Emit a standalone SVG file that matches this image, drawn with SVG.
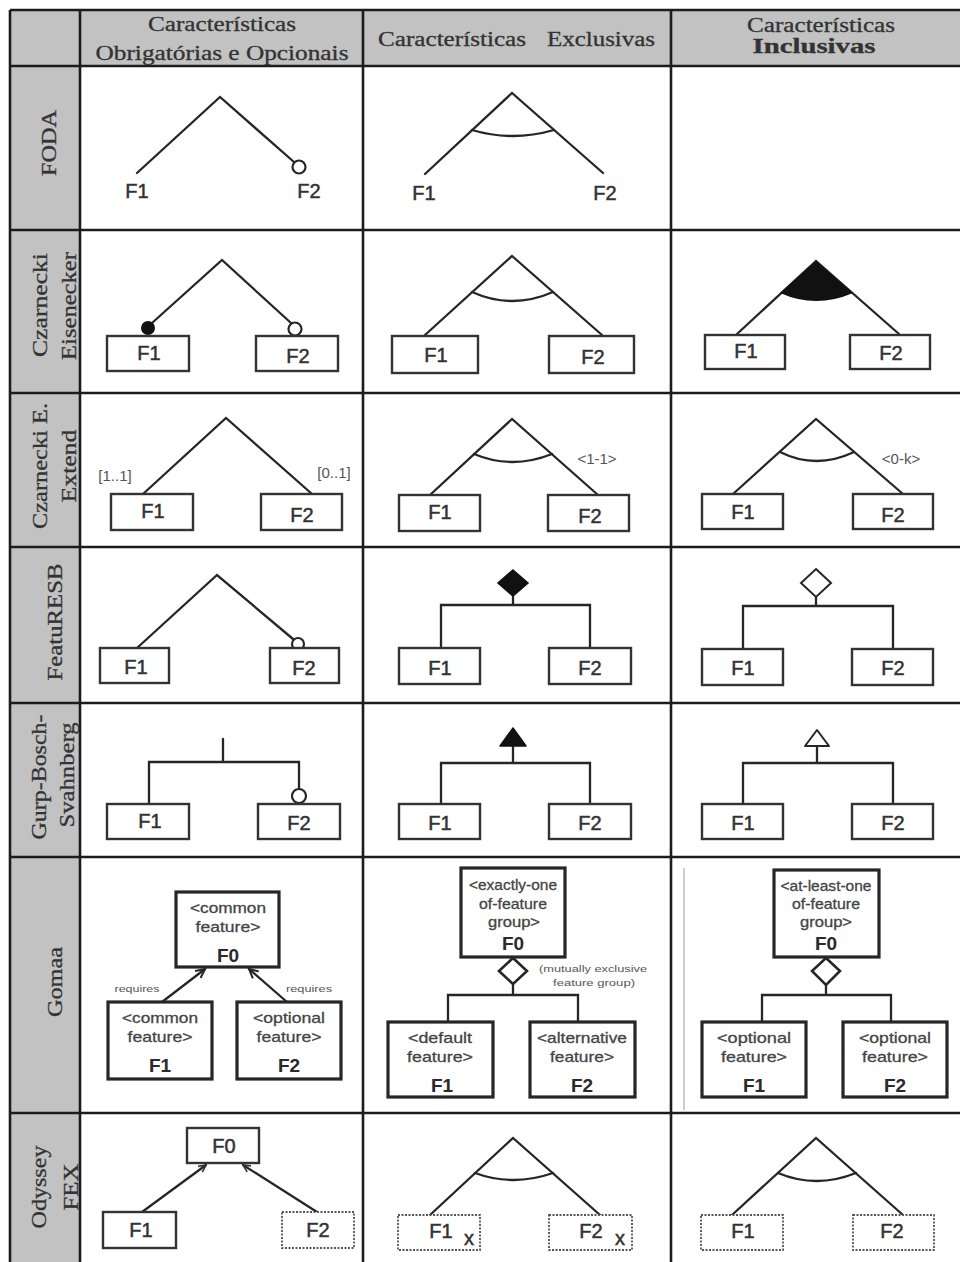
<svg xmlns="http://www.w3.org/2000/svg" width="960" height="1262" viewBox="0 0 960 1262">
  <defs>
    <style>
      .grid { stroke: #1c1c1c; stroke-width: 2.6; fill: none; }
      .ln { stroke: #262626; stroke-width: 2.3; fill: none; stroke-linecap: round; }
      .box { fill: #ffffff; stroke: #333333; stroke-width: 2.4; }
      .gbox { fill: #ffffff; stroke: #262626; stroke-width: 3.2; }
      .dbox { fill: #ffffff; stroke: #555555; stroke-width: 1.8; stroke-dasharray: 2 1.5; }
      .f { font-family: "Liberation Sans", Arial, sans-serif; font-size: 20px; fill: #333333; stroke: #333333; stroke-width: 0.5; text-anchor: middle; }
      .fb { font-family: "Liberation Sans", Arial, sans-serif; font-size: 19px; font-weight: bold; fill: #2a2a2a; text-anchor: middle; }
      .st { font-family: "Liberation Sans", Arial, sans-serif; font-size: 15px; fill: #444444; stroke: #444444; stroke-width: 0.3; text-anchor: middle; }
      .sm { font-family: "Liberation Sans", Arial, sans-serif; font-size: 9px; fill: #555555; text-anchor: middle; }
      .card { font-family: "Liberation Sans", Arial, sans-serif; font-size: 15px; fill: #555555; text-anchor: middle; }
      .hd { font-family: "Liberation Serif", "Times New Roman", serif; font-size: 20px; fill: #333333; stroke: #333333; stroke-width: 0.3; text-anchor: middle; }
      .rl { font-family: "Liberation Serif", "Times New Roman", serif; font-size: 21px; fill: #333333; stroke: #333333; stroke-width: 0.3; text-anchor: middle; }
    </style>
    <marker id="open-arrow" markerWidth="12" markerHeight="12" refX="10" refY="5" orient="auto" markerUnits="userSpaceOnUse" viewBox="0 0 12 10">
      <path d="M1,0.5 L10,5 L1,9.5" fill="none" stroke="#262626" stroke-width="2"/>
    </marker>
    <marker id="open-arrow-sm" markerWidth="9" markerHeight="9" refX="9" refY="5" orient="auto" markerUnits="userSpaceOnUse" viewBox="0 0 10 10">
      <path d="M1,1 L9,5 L1,9" fill="none" stroke="#333333" stroke-width="1.8"/>
    </marker>
  </defs>

  <rect width="960" height="1262" fill="#ffffff"/>

  <!-- table: header band, label column, rules -->
  <g id="table">
    <rect x="10" y="10" width="950" height="56" fill="#c2c2c2"/>
    <rect x="10" y="10" width="70" height="1252" fill="#c2c2c2"/>
    <path class="grid" d="M10,10 H960 M10,66 H960 M10,230 H960 M10,393 H960 M10,547 H960 M10,703 H960 M10,857 H960 M10,1113 H960"/>
    <path class="grid" d="M10,10 V1262 M80,10 V1262 M363,10 V1262 M671,10 V1262"/>
    <line x1="684" y1="868" x2="684" y2="1110" stroke="#bdbdbd" stroke-width="1.5"/>
  </g>

  <!-- column headings -->
  <g id="headings">
    <text class="hd" x="222" y="31" textLength="148" lengthAdjust="spacingAndGlyphs">Características</text>
    <text class="hd" x="222" y="60" textLength="253" lengthAdjust="spacingAndGlyphs">Obrigatórias e Opcionais</text>
    <text class="hd" x="452" y="46" textLength="148" lengthAdjust="spacingAndGlyphs">Características</text>
    <text class="hd" x="601" y="46" textLength="108" lengthAdjust="spacingAndGlyphs">Exclusivas</text>
    <text class="hd" x="821" y="32" textLength="148" lengthAdjust="spacingAndGlyphs">Características</text>
    <text class="hd" x="814" y="53" font-weight="bold" fill="#1d1d33" stroke="none" textLength="123" lengthAdjust="spacingAndGlyphs">Inclusivas</text>
  </g>

  <!-- row headings (rotated) -->
  <g id="row-labels">
    <text class="rl" transform="translate(56,143) rotate(-90)" textLength="66" lengthAdjust="spacingAndGlyphs">FODA</text>
    <text class="rl" transform="translate(47,305) rotate(-90)" textLength="104" lengthAdjust="spacingAndGlyphs">Czarnecki</text>
    <text class="rl" transform="translate(76,306) rotate(-90)" textLength="108" lengthAdjust="spacingAndGlyphs">Eisenecker</text>
    <text class="rl" transform="translate(47,466) rotate(-90)" textLength="126" lengthAdjust="spacingAndGlyphs">Czarnecki E.</text>
    <text class="rl" transform="translate(76,466) rotate(-90)" textLength="73" lengthAdjust="spacingAndGlyphs">Extend</text>
    <text class="rl" transform="translate(62,622) rotate(-90)" textLength="117" lengthAdjust="spacingAndGlyphs">FeatuRESB</text>
    <text class="rl" transform="translate(46,777) rotate(-90)" textLength="125" lengthAdjust="spacingAndGlyphs">Gurp-Bosch-</text>
    <text class="rl" transform="translate(74,775) rotate(-90)" textLength="105" lengthAdjust="spacingAndGlyphs">Svahnberg</text>
    <text class="rl" transform="translate(62,982) rotate(-90)" textLength="70" lengthAdjust="spacingAndGlyphs">Gomaa</text>
    <text class="rl" transform="translate(46,1187) rotate(-90)" textLength="83" lengthAdjust="spacingAndGlyphs">Odyssey</text>
    <text class="rl" transform="translate(78,1187) rotate(-90)" textLength="47" lengthAdjust="spacingAndGlyphs">FEX</text>
  </g>

  <!-- all connectors -->
  <g id="connectors">
    <!-- FODA -->
    <path class="ln" d="M137,173 L220,97 L294,162"/>
    <path class="ln" d="M425,174 L512,93 L603,173"/>
    <path class="ln" d="M472,130 Q512,142 554,130"/>
    <!-- Czarnecki-Eisenecker -->
    <path class="ln" d="M152,323 L222,260 L291,323"/>
    <path class="ln" d="M425,335 L512,256 L602,335"/>
    <path class="ln" d="M472,292 Q512,310 553,292"/>
    <path class="ln" d="M737,334 L816,261 L899,334"/>
    <path d="M816,261 L780,293 Q816,309 853,293 Z" fill="#111111"/>
    <!-- Czarnecki E. Extend -->
    <path class="ln" d="M143,494 L226,418 L312,494"/>
    <path class="ln" d="M430,495 L512,419 L598,495"/>
    <path class="ln" d="M474,454 Q512,470 552,454"/>
    <path class="ln" d="M733,494 L816,419 L903,494"/>
    <path class="ln" d="M780,452 Q816,470 854,452"/>
    <!-- FeatuRESB -->
    <path class="ln" d="M137,648 L217,575 L293,639"/>
    <path class="ln" d="M513,596 V605 M441,648 V605 H590 V648"/>
    <path d="M513,570 L528,583 L513,596 L498,583 Z" fill="#111111" stroke="#111111" stroke-width="1.5"/>
    <path class="ln" d="M816,597 V606 M743,649 V606 H893 V649"/>
    <path d="M816,569 L831,583 L816,597 L801,583 Z" fill="#ffffff" stroke="#262626" stroke-width="2"/>
    <!-- Gurp-Bosch-Svahnberg -->
    <path class="ln" d="M223,739 V762 M149,804 V762 H299 V789"/>
    <path class="ln" d="M513,746 V763 M441,804 V763 H590 V804"/>
    <path d="M513,728 L526,746 L500,746 Z" fill="#111111" stroke="#111111" stroke-width="1.5" stroke-linejoin="round"/>
    <path class="ln" d="M817,746 V763 M743,804 V763 H893 V804"/>
    <path d="M817,730 L829,746 L805,746 Z" fill="#ffffff" stroke="#262626" stroke-width="2" stroke-linejoin="round"/>
    <!-- Gomaa -->
    <line class="ln" x1="162" y1="1002" x2="205" y2="969" stroke-width="2.6" marker-end="url(#open-arrow)"/>
    <line class="ln" x1="287" y1="1002" x2="249" y2="969" stroke-width="2.6" marker-end="url(#open-arrow)"/>
    <path class="ln" d="M513,984 V995 M448,1022 V995 H578 V1022" stroke-width="2.6"/>
    <path d="M513,958 L527,971 L513,984 L499,971 Z" fill="#ffffff" stroke="#262626" stroke-width="2.6"/>
    <path class="ln" d="M826,985 V995 M762,1022 V995 H891 V1022" stroke-width="2.6"/>
    <path d="M826,958 L840,971 L826,985 L812,971 Z" fill="#ffffff" stroke="#262626" stroke-width="2.6"/>
    <!-- Odyssey FEX -->
    <line class="ln" x1="142" y1="1212" x2="206" y2="1165" marker-end="url(#open-arrow-sm)"/>
    <line class="ln" x1="317" y1="1212" x2="243" y2="1165" marker-end="url(#open-arrow-sm)"/>
    <path class="ln" d="M430,1215 L513,1138 L600,1215"/>
    <path class="ln" d="M475,1173 Q513,1187 553,1173"/>
    <path class="ln" d="M732,1215 L816,1138 L903,1215"/>
    <path class="ln" d="M778,1173 Q816,1189 856,1173"/>
  </g>

  <!-- FODA -->
  <g id="foda-mand-opt">
    <circle cx="299" cy="167" r="6.5" fill="#ffffff" stroke="#262626" stroke-width="2.2"/>
    <text class="f" x="137" y="198">F1</text>
    <text class="f" x="309" y="198">F2</text>
  </g>
  <g id="foda-excl">
    <text class="f" x="424" y="200">F1</text>
    <text class="f" x="605" y="200">F2</text>
  </g>

  <!-- Czarnecki-Eisenecker -->
  <g id="ce-mand-opt">
    <circle cx="148" cy="328" r="7" fill="#111111"/>
    <circle cx="295" cy="329" r="6.5" fill="#ffffff" stroke="#262626" stroke-width="2.2"/>
    <rect class="box" x="107" y="336" width="82" height="35"/>
    <rect class="box" x="256" y="336" width="82" height="35"/>
    <text class="f" x="149" y="360">F1</text>
    <text class="f" x="298" y="363">F2</text>
  </g>
  <g id="ce-excl">
    <rect class="box" x="392" y="336" width="86" height="37"/>
    <rect class="box" x="549" y="336" width="85" height="37"/>
    <text class="f" x="436" y="362">F1</text>
    <text class="f" x="593" y="364">F2</text>
  </g>
  <g id="ce-incl">
    <rect class="box" x="705" y="335" width="80" height="34"/>
    <rect class="box" x="850" y="335" width="80" height="34"/>
    <text class="f" x="746" y="358">F1</text>
    <text class="f" x="891" y="360">F2</text>
  </g>

  <!-- Czarnecki E. Extend -->
  <g id="cee-mand-opt">
    <rect class="box" x="111" y="494" width="82" height="36"/>
    <rect class="box" x="261" y="494" width="81" height="36"/>
    <text class="f" x="153" y="518">F1</text>
    <text class="f" x="302" y="522">F2</text>
    <text class="card" x="115" y="481">[1..1]</text>
    <text class="card" x="334" y="478">[0..1]</text>
  </g>
  <g id="cee-excl">
    <rect class="box" x="399" y="495" width="81" height="36"/>
    <rect class="box" x="548" y="495" width="81" height="36"/>
    <text class="f" x="440" y="519">F1</text>
    <text class="f" x="590" y="523">F2</text>
    <text class="card" x="597" y="464">&lt;1-1&gt;</text>
  </g>
  <g id="cee-incl">
    <rect class="box" x="702" y="494" width="81" height="35"/>
    <rect class="box" x="853" y="494" width="80" height="35"/>
    <text class="f" x="743" y="519">F1</text>
    <text class="f" x="893" y="522">F2</text>
    <text class="card" x="901" y="464">&lt;0-k&gt;</text>
  </g>

  <!-- FeatuRESB -->
  <g id="fr-mand-opt">
    <circle cx="298" cy="644" r="6" fill="#ffffff" stroke="#262626" stroke-width="2.2"/>
    <rect class="box" x="100" y="648" width="69" height="35"/>
    <rect class="box" x="270" y="648" width="69" height="35"/>
    <text class="f" x="136" y="674">F1</text>
    <text class="f" x="304" y="675">F2</text>
  </g>
  <g id="fr-excl">
    <rect class="box" x="399" y="648" width="81" height="36"/>
    <rect class="box" x="549" y="648" width="82" height="36"/>
    <text class="f" x="440" y="675">F1</text>
    <text class="f" x="590" y="675">F2</text>
  </g>
  <g id="fr-incl">
    <rect class="box" x="702" y="649" width="81" height="36"/>
    <rect class="box" x="852" y="649" width="81" height="36"/>
    <text class="f" x="743" y="675">F1</text>
    <text class="f" x="893" y="675">F2</text>
  </g>

  <!-- Gurp-Bosch-Svahnberg -->
  <g id="gbs-mand-opt">
    <circle cx="299" cy="796" r="7" fill="#ffffff" stroke="#262626" stroke-width="2.2"/>
    <rect class="box" x="107" y="804" width="82" height="35"/>
    <rect class="box" x="258" y="804" width="82" height="35"/>
    <text class="f" x="150" y="828">F1</text>
    <text class="f" x="299" y="830">F2</text>
  </g>
  <g id="gbs-excl">
    <rect class="box" x="399" y="804" width="81" height="35"/>
    <rect class="box" x="549" y="804" width="82" height="35"/>
    <text class="f" x="440" y="830">F1</text>
    <text class="f" x="590" y="830">F2</text>
  </g>
  <g id="gbs-incl">
    <rect class="box" x="702" y="804" width="81" height="35"/>
    <rect class="box" x="852" y="804" width="81" height="35"/>
    <text class="f" x="743" y="830">F1</text>
    <text class="f" x="893" y="830">F2</text>
  </g>

  <!-- Gomaa -->
  <g id="gomaa-mand-opt">
    <rect class="gbox" x="176" y="892" width="103" height="75"/>
    <text class="st" x="228" y="913" textLength="76" lengthAdjust="spacingAndGlyphs">&lt;common</text>
    <text class="st" x="228" y="932" textLength="65" lengthAdjust="spacingAndGlyphs">feature&gt;</text>
    <text class="fb" x="228" y="962">F0</text>
    <rect class="gbox" x="108" y="1002" width="104" height="77"/>
    <text class="st" x="160" y="1023" textLength="76" lengthAdjust="spacingAndGlyphs">&lt;common</text>
    <text class="st" x="160" y="1042" textLength="65" lengthAdjust="spacingAndGlyphs">feature&gt;</text>
    <text class="fb" x="160" y="1072">F1</text>
    <rect class="gbox" x="237" y="1002" width="104" height="77"/>
    <text class="st" x="289" y="1023" textLength="72" lengthAdjust="spacingAndGlyphs">&lt;optional</text>
    <text class="st" x="289" y="1042" textLength="65" lengthAdjust="spacingAndGlyphs">feature&gt;</text>
    <text class="fb" x="289" y="1072">F2</text>
    <text class="sm" x="137" y="992" textLength="45" lengthAdjust="spacingAndGlyphs">requires</text>
    <text class="sm" x="309" y="992" textLength="46" lengthAdjust="spacingAndGlyphs">requires</text>
  </g>
  <g id="gomaa-excl">
    <rect class="gbox" x="461" y="868" width="104" height="89"/>
    <text class="st" x="513" y="890" textLength="88" lengthAdjust="spacingAndGlyphs">&lt;exactly-one</text>
    <text class="st" x="513" y="909" textLength="68" lengthAdjust="spacingAndGlyphs">of-feature</text>
    <text class="st" x="514" y="927" textLength="52" lengthAdjust="spacingAndGlyphs">group&gt;</text>
    <text class="fb" x="513" y="950">F0</text>
    <text class="sm" x="593" y="972" textLength="108" lengthAdjust="spacingAndGlyphs">(mutually exclusive</text>
    <text class="sm" x="594" y="986" textLength="82" lengthAdjust="spacingAndGlyphs">feature group)</text>
    <rect class="gbox" x="388" y="1022" width="105" height="75"/>
    <text class="st" x="440" y="1043" textLength="64" lengthAdjust="spacingAndGlyphs">&lt;default</text>
    <text class="st" x="440" y="1062" textLength="66" lengthAdjust="spacingAndGlyphs">feature&gt;</text>
    <text class="fb" x="442" y="1092">F1</text>
    <rect class="gbox" x="530" y="1022" width="105" height="75"/>
    <text class="st" x="582" y="1043" textLength="90" lengthAdjust="spacingAndGlyphs">&lt;alternative</text>
    <text class="st" x="582" y="1062" textLength="64" lengthAdjust="spacingAndGlyphs">feature&gt;</text>
    <text class="fb" x="582" y="1092">F2</text>
  </g>
  <g id="gomaa-incl">
    <rect class="gbox" x="774" y="870" width="105" height="87"/>
    <text class="st" x="826" y="891" textLength="91" lengthAdjust="spacingAndGlyphs">&lt;at-least-one</text>
    <text class="st" x="826" y="909" textLength="68" lengthAdjust="spacingAndGlyphs">of-feature</text>
    <text class="st" x="826" y="927" textLength="52" lengthAdjust="spacingAndGlyphs">group&gt;</text>
    <text class="fb" x="826" y="950">F0</text>
    <rect class="gbox" x="702" y="1022" width="104" height="75"/>
    <text class="st" x="754" y="1043" textLength="74" lengthAdjust="spacingAndGlyphs">&lt;optional</text>
    <text class="st" x="754" y="1062" textLength="66" lengthAdjust="spacingAndGlyphs">feature&gt;</text>
    <text class="fb" x="754" y="1092">F1</text>
    <rect class="gbox" x="843" y="1022" width="104" height="75"/>
    <text class="st" x="895" y="1043" textLength="72" lengthAdjust="spacingAndGlyphs">&lt;optional</text>
    <text class="st" x="895" y="1062" textLength="66" lengthAdjust="spacingAndGlyphs">feature&gt;</text>
    <text class="fb" x="895" y="1092">F2</text>
  </g>

  <!-- Odyssey FEX -->
  <g id="fex-mand-opt">
    <rect class="box" x="187" y="1128" width="72" height="35"/>
    <text class="f" x="224" y="1153">F0</text>
    <rect class="box" x="103" y="1212" width="73" height="36"/>
    <text class="f" x="141" y="1237">F1</text>
    <rect class="dbox" x="282" y="1212" width="72" height="36"/>
    <text class="f" x="318" y="1237">F2</text>
  </g>
  <g id="fex-excl">
    <rect class="dbox" x="398" y="1215" width="82" height="35"/>
    <text class="f" x="441" y="1238">F1</text>
    <text class="f" x="469" y="1245" font-size="14">x</text>
    <rect class="dbox" x="549" y="1215" width="83" height="35"/>
    <text class="f" x="591" y="1238">F2</text>
    <text class="f" x="620" y="1245" font-size="14">x</text>
  </g>
  <g id="fex-incl">
    <rect class="dbox" x="701" y="1215" width="82" height="35"/>
    <text class="f" x="743" y="1238">F1</text>
    <rect class="dbox" x="853" y="1215" width="81" height="35"/>
    <text class="f" x="892" y="1238">F2</text>
  </g>
</svg>
